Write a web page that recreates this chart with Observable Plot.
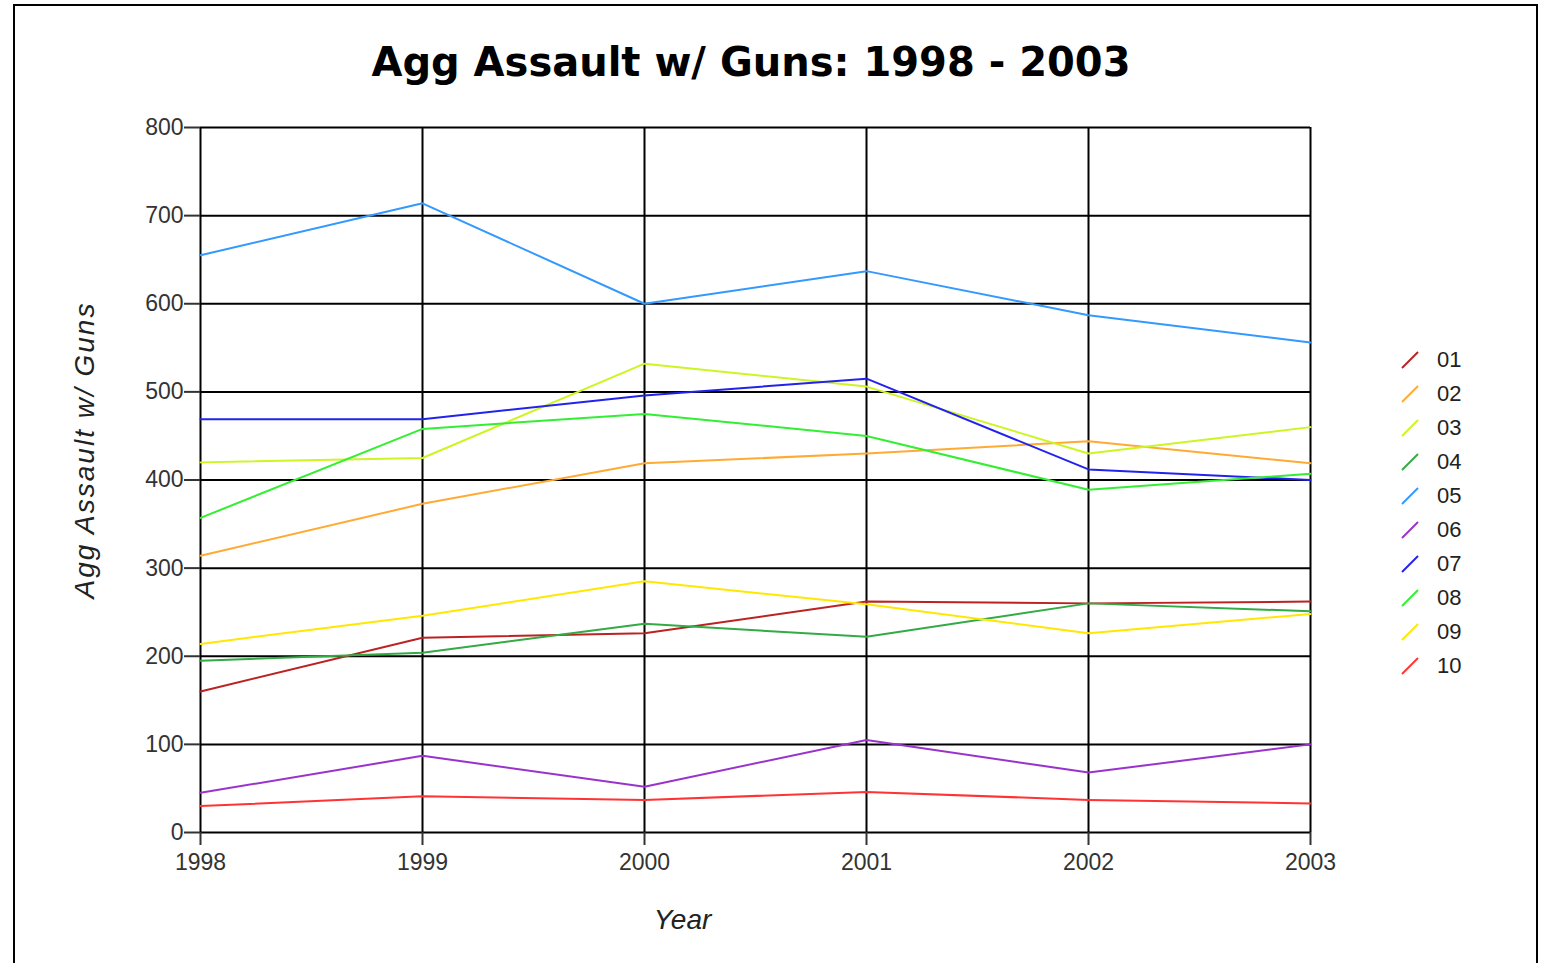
<!DOCTYPE html>
<html>
<head>
<meta charset="utf-8">
<script src="https://cdn.jsdelivr.net/npm/d3@7"></script>
<script src="https://cdn.jsdelivr.net/npm/@observablehq/plot@0.6"></script>
<style>
  html, body { margin: 0; padding: 0; background: #fff; overflow: hidden; width: 1541px; height: 963px; }
  #box { position: absolute; left: 13px; top: 4px; width: 1521px; height: 1000px; border: 2px solid #000; }
  #title { position: absolute; left: 0; top: 38px; width: 1502px; text-align: center;
           font-family: "DejaVu Sans", Verdana, sans-serif; font-weight: bold; font-size: 40px; line-height: 48px; color: #000; }
  #chart { position: absolute; left: 0; top: 100px; }
  #legend { position: absolute; left: 1400px; top: 343px; font-family: "Liberation Sans", Arial, sans-serif; font-size: 22px; color: #222; }
  .row { height: 34px; display: flex; align-items: center; }
  .row svg { width: 20px; height: 20px; margin-right: 17px; }
</style>
</head>
<body>
<div id="box"></div>
<div id="title">Agg Assault w/ Guns: 1998 - 2003</div>
<div id="chart"></div>
<div id="legend"></div>
<script>
const years = [1998, 1999, 2000, 2001, 2002, 2003];
const seriesNames = ["01", "02", "03", "04", "05", "06", "07", "08", "09", "10"];
const seriesColors = ["#bb2222", "#ffaa33", "#ccf522", "#33aa44", "#3399ff", "#9933cc", "#2222ee", "#33ee33", "#ffe800", "#ff3333"];
const s01 = [160, 221, 226, 262, 260, 262];
const s02 = [314, 373, 419, 430, 444, 419];
const s03 = [420, 425, 532, 506, 430, 460];
const s04 = [195, 204, 237, 222, 260, 251];
const s05 = [655, 714, 600, 637, 587, 556];
const s06 = [45, 87, 52, 105, 68, 100];
const s07 = [469, 469, 496, 515, 412, 400];
const s08 = [357, 458, 475, 450, 389, 407];
const s09 = [214, 246, 285, 259, 226, 248];
const s10 = [30, 41, 37, 46, 37, 33];
const seriesValues = [s01, s02, s03, s04, s05, s06, s07, s08, s09, s10];
const yTicks = [0, 100, 200, 300, 400, 500, 600, 700, 800];
const yLabel = "Agg Assault w/ Guns";
const xLabel = "Year";

const rows = [];
seriesNames.forEach((name, i) => {
  years.forEach((yr, j) => rows.push({series: name, year: yr, value: seriesValues[i][j]}));
});

const chart = Plot.plot({
  width: 1541,
  height: 863,
  marginLeft: 200,
  marginRight: 231,
  marginTop: 27,
  marginBottom: 131,
  style: {fontFamily: "Liberation Sans, Arial, sans-serif", fontSize: "23px", color: "#333", background: "transparent"},
  x: {domain: [1998, 2003], ticks: years, tickFormat: d => String(d), tickSize: 13, tickPadding: 8, label: null},
  y: {domain: [0, 800], ticks: yTicks, tickSize: 16, tickPadding: 1, label: null},
  color: {domain: seriesNames, range: seriesColors},
  marks: [
    Plot.gridX(years, {stroke: "#000", strokeOpacity: 1, strokeWidth: 2}),
    Plot.gridY(yTicks, {stroke: "#000", strokeOpacity: 1, strokeWidth: 2}),
    Plot.axisX({ticks: years, tickFormat: d => String(d), tickSize: 13, tickPadding: 8, stroke: "#333", strokeWidth: 2, label: null}),
    Plot.axisY({ticks: yTicks, tickSize: 16, tickPadding: 1, stroke: "#333", strokeWidth: 2, label: null}),
    Plot.line(rows, {x: "year", y: "value", z: "series", stroke: "series", strokeWidth: 2}),
    Plot.text([yLabel], {text: d => d, frameAnchor: "left", textAnchor: "middle", dx: -115, dy: -30, rotate: -90, fontStyle: "italic", fontSize: 28, fill: "#222"}),
    Plot.text([xLabel], {text: d => d, frameAnchor: "bottom", textAnchor: "middle", dx: -73, dy: 96, fontStyle: "italic", fontSize: 28, fill: "#222"})
  ]
});
d3.select(chart).selectAll("text").filter(function() { return this.textContent === yLabel; }).attr("letter-spacing", "2px");
document.getElementById("chart").appendChild(chart);

const legend = document.getElementById("legend");
seriesNames.forEach((name, i) => {
  const row = document.createElement("div");
  row.className = "row";
  row.innerHTML = `<svg viewBox="0 0 20 20"><line x1="2" y1="18" x2="18" y2="2" stroke="${seriesColors[i]}" stroke-width="2"/></svg><span>${name}</span>`;
  legend.appendChild(row);
});
</script>
</body>
</html>
